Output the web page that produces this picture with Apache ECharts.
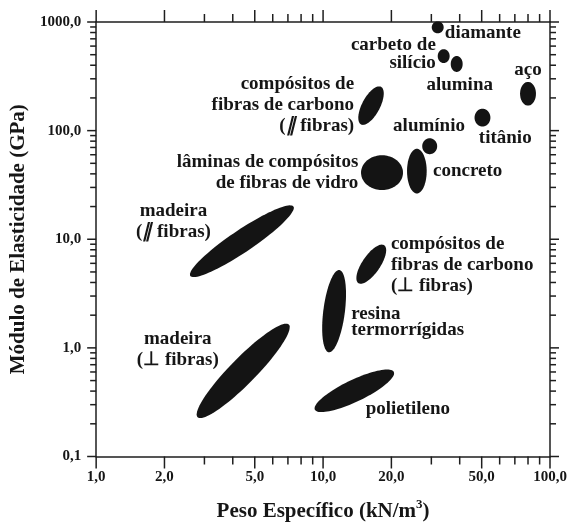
<!DOCTYPE html>
<html>
<head>
<meta charset="utf-8">
<script src="https://cdn.jsdelivr.net/npm/echarts@6/dist/echarts.min.js"></script>
<style>
html,body{margin:0;padding:0;background:#fff;}
#chart{width:576px;height:527px;}
</style>
</head>
<body>
<div id="chart"></div>
<script>
// ---- Data: material regions (major-axis end points, in data units) ----
const materials = ['madeira ∥', 'madeira ⊥', 'compósitos carbono ∥', 'compósitos carbono ⊥',
  'resina termorrígidas', 'polietileno', 'lâminas fibras de vidro', 'concreto', 'alumínio',
  'titânio', 'aço', 'alumina', 'carbeto de silício', 'diamante'];
const densityMin = [2.6, 2.8, 14.7, 14.3, 10.6, 9.2, 14.7, 25.9, 29.5, 50.4, 80, 38.8, 34.0, 32.0];
const densityMax = [7.4, 7.06, 18.0, 18.6, 11.8, 20.5, 22.5, 25.9, 29.5, 50.4, 80, 38.8, 34.0, 32.0];
const modulusMin = [4.6, 0.23, 114, 3.95, 0.91, 0.27, 41, 26.4, 60.7, 109, 170, 347, 419, 787];
const modulusMax = [20, 1.64, 253, 8.8, 5.2, 0.6, 41, 68, 85, 159, 281, 486, 562, 1013];
const aspect = [0.18, 0.2, 0.42, 0.39, 0.26, 0.25, 0.83, 0.44, 0.94, 0.89, 0.67, 0.75, 0.86, 1.0];

// ---- Annotations (anchor in data units) ----
const labelTexts = ['diamante', 'carbeto de\nsilício', 'alumina', 'aço', 'alumínio', 'titânio', 'concreto',
  'compósitos de\nfibras de carbono\n({p|∥} fibras)', 'lâminas de compósitos\nde fibras de vidro',
  'madeira\n({p|∥} fibras)', 'madeira\n(⊥ fibras)', 'compósitos de\nfibras de carbono\n(⊥ fibras)',
  'resina\ntermorrígidas', 'polietileno'];
const labelDensity = [34.4, 31.4, 40, 80, 29.3, 63.5, 30.5, 13.7, 14.3, 2.19, 2.29, 19.9, 13.3, 15.4];
const labelModulus = [787, 506, 264, 362, 109, 85, 42.4, 173, 41, 14.5, 0.97, 5.8, 1.74, 0.274];
const labelAlign = ['left', 'right', 'center', 'center', 'center', 'center', 'left', 'right', 'right',
  'center', 'center', 'left', 'left', 'left'];

// ---- Axes ----
const X_MIN = 1, X_MAX = 100, Y_MIN = 0.1, Y_MAX = 1000;
const xTickLabels = [1, 2, 5, 10, 20, 50, 100];
const xMinorTicks = [3, 4, 6, 7, 8, 9, 30, 40, 60, 70, 80, 90];
const yTickLabels = [0.1, 1, 10, 100, 1000];
const yMinorTicks = [0.2, 0.3, 0.4, 0.5, 0.6, 0.7, 0.8, 0.9, 2, 3, 4, 5, 6, 7, 8, 9,
  20, 30, 40, 50, 60, 70, 80, 90, 200, 300, 400, 500, 600, 700, 800, 900];

const FONT = '"Liberation Serif", "Times New Roman", serif';
const INK = '#161616';
const LINE = '#1e1e1e';
const lineHeights = {'resina\ntermorrígidas': 16, 'carbeto de\nsilício': 18};

function fmt(v) { return Number(v).toFixed(1).replace('.', ','); }

function tickSeries(values, axis, len) {
  return {
    type: 'custom', coordinateSystem: 'cartesian2d', silent: true, clip: false, z: 5,
    data: values.map(v => axis === 'x' ? [v, Y_MIN] : [X_MIN, v]),
    renderItem: function (params, api) {
      const st = {stroke: LINE, lineWidth: 1.5};
      if (axis === 'x') {
        const v = api.value(0);
        const b = api.coord([v, Y_MIN]), t = api.coord([v, Y_MAX]);
        return {type: 'group', children: [
          {type: 'line', shape: {x1: b[0], y1: b[1], x2: b[0], y2: b[1] + len}, style: st},
          {type: 'line', shape: {x1: t[0], y1: t[1], x2: t[0], y2: t[1] - len}, style: st}
        ]};
      } else {
        const v = api.value(1);
        const l = api.coord([X_MIN, v]), r = api.coord([X_MAX, v]);
        return {type: 'group', children: [
          {type: 'line', shape: {x1: l[0], y1: l[1], x2: l[0] - len, y2: l[1]}, style: st},
          {type: 'line', shape: {x1: r[0], y1: r[1], x2: r[0] + len, y2: r[1]}, style: st}
        ]};
      }
    }
  };
}

const chart = echarts.init(document.getElementById('chart'), null, {renderer: 'canvas'});

const option = {
  backgroundColor: '#fff',
  animation: false,
  grid: {left: 93, right: 26, top: 22, bottom: 67, containLabel: false},
  xAxis: [
    {type: 'log', logBase: 10, min: X_MIN, max: X_MAX, position: 'bottom',
     name: 'Peso Específico (kN/m{s|3})', nameLocation: 'middle', nameGap: 42,
     nameTextStyle: {fontFamily: FONT, fontWeight: 'bold', fontSize: 21, color: INK,
       rich: {s: {fontFamily: FONT, fontWeight: 'bold', fontSize: 13, color: INK, verticalAlign: 'top', lineHeight: 26}}},
     axisLine: {show: true, lineStyle: {color: LINE, width: 1.5}},
     axisTick: {show: false}, axisLabel: {show: false}, splitLine: {show: false}, minorTick: {show: false}},
    {type: 'log', logBase: 10, min: X_MIN, max: X_MAX, position: 'top',
     axisLine: {show: true, lineStyle: {color: LINE, width: 1.5}},
     axisTick: {show: false}, axisLabel: {show: false}, splitLine: {show: false}}
  ],
  yAxis: [
    {type: 'log', logBase: 10, min: Y_MIN, max: Y_MAX, position: 'left',
     name: 'Módulo de Elasticidade (GPa)', nameLocation: 'middle', nameGap: 56, nameRotate: 90,
     nameTextStyle: {fontFamily: FONT, fontWeight: 'bold', fontSize: 21, color: INK},
     axisLine: {show: true, lineStyle: {color: LINE, width: 1.5}},
     axisTick: {show: false},
     axisLabel: {show: true, margin: 15, fontFamily: FONT, fontWeight: 'bold', fontSize: 15, color: INK,
       formatter: fmt},
     splitLine: {show: false}},
    {type: 'log', logBase: 10, min: Y_MIN, max: Y_MAX, position: 'right',
     axisLine: {show: true, lineStyle: {color: LINE, width: 1.5}},
     axisTick: {show: false}, axisLabel: {show: false}, splitLine: {show: false}}
  ],
  series: [
    // material regions
    {
      type: 'custom', name: 'materiais', coordinateSystem: 'cartesian2d', xAxisIndex: 0, yAxisIndex: 0,
      clip: false, silent: true, z: 3,
      encode: {x: [0, 2], y: [1, 3]},
      data: materials.map((m, i) => [densityMin[i], modulusMin[i], densityMax[i], modulusMax[i]]),
      renderItem: function (params, api) {
        const p1 = api.coord([api.value(0), api.value(1)]);
        const p2 = api.coord([api.value(2), api.value(3)]);
        const cx = (p1[0] + p2[0]) / 2, cy = (p1[1] + p2[1]) / 2;
        const dx = p2[0] - p1[0], dy = p2[1] - p1[1];
        const a = Math.hypot(dx, dy) / 2;
        const b = a * aspect[params.dataIndex];
        const th = Math.atan2(dy, dx);
        const pts = [];
        for (let k = 0; k < 90; k++) {
          const t = k / 90 * Math.PI * 2;
          const ex = a * Math.cos(t), ey = b * Math.sin(t);
          pts.push([cx + ex * Math.cos(th) - ey * Math.sin(th), cy + ex * Math.sin(th) + ey * Math.cos(th)]);
        }
        return {type: 'polygon', shape: {points: pts}, style: {fill: '#141414'}};
      }
    },
    // annotations
    {
      type: 'custom', name: 'rotulos', coordinateSystem: 'cartesian2d', clip: false, silent: true, z: 6,
      data: labelTexts.map((t, i) => [labelDensity[i], labelModulus[i]]),
      renderItem: function (params, api) {
        const i = params.dataIndex;
        const p = api.coord([api.value(0), api.value(1)]);
        const lh = lineHeights[labelTexts[i]] || 21;
        return {type: 'text', x: p[0], y: p[1], style: {
          text: labelTexts[i], fill: INK, fontFamily: FONT, fontWeight: 'bold', fontSize: 19,
          lineHeight: lh, align: labelAlign[i], verticalAlign: 'middle',
          rich: {p: {fontFamily: FONT, fontWeight: 'bold', fontStyle: 'italic', fontSize: 19, fill: INK, lineHeight: lh}}}};
      }
    },
    // x tick labels
    {
      type: 'custom', name: 'xlabels', coordinateSystem: 'cartesian2d', clip: false, silent: true, z: 6,
      data: xTickLabels.map(v => [v, Y_MIN]),
      renderItem: function (params, api) {
        const p = api.coord([api.value(0), Y_MIN]);
        return {type: 'text', x: p[0], y: p[1] + 13, style: {
          text: fmt(api.value(0)), fill: INK, fontFamily: FONT, fontWeight: 'bold', fontSize: 15,
          align: 'center', verticalAlign: 'top'}};
      }
    },
    tickSeries(xTickLabels, 'x', 12),
    tickSeries(xMinorTicks, 'x', 8),
    tickSeries(yTickLabels, 'y', 9),
    tickSeries(yMinorTicks, 'y', 6)
  ]
};
chart.setOption(option);
</script>
</body>
</html>
